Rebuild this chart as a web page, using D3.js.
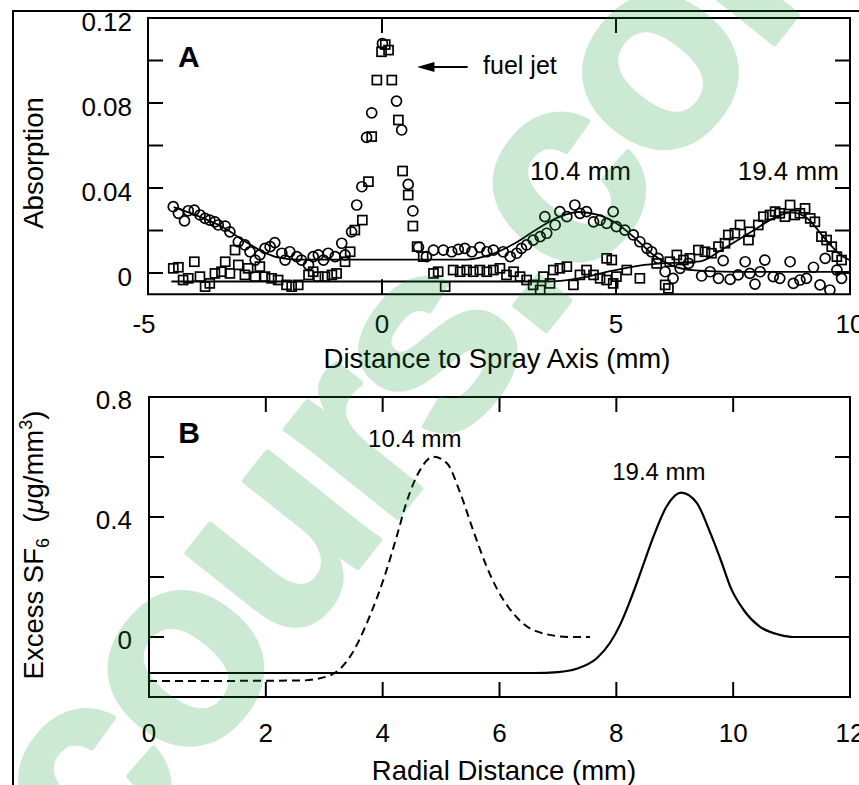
<!DOCTYPE html>
<html>
<head>
<meta charset="utf-8">
<script src="https://cdn.jsdelivr.net/npm/d3@7"></script>
<style>
  html, body { margin: 0; padding: 0; background: #fff; }
  svg { display: block; }
  text { font-family: "Liberation Sans", Arial, Helvetica, sans-serif; fill: #000; }
</style>
</head>
<body>
<svg id="chart" width="859" height="785"></svg>
<script>
// ---------- Panel A: absorption profiles across the spray ----------
// 10.4 mm downstream (circles): [distance mm, absorption]
const absorption104 = [
  [-4.46,0.0312],[-4.35,0.0281],[-4.22,0.0245],[-4.14,0.0293],[-4.01,0.0296],[-3.89,0.0273],
  [-3.78,0.0257],[-3.68,0.0249],[-3.57,0.0241],[-3.50,0.0226],[-3.35,0.0221],[-3.25,0.0194],
  [-3.07,0.0147],[-2.93,0.0132],[-2.82,0.0100],[-2.71,0.0061],[-2.61,0.0085],[-2.50,0.0116],
  [-2.39,0.0124],[-2.29,0.0143],[-2.14,0.0093],[-2.07,0.0061],[-1.97,0.0100],[-1.82,0.0077],
  [-1.72,0.0061],[-1.57,0.0038],[-1.47,0.0077],[-1.36,0.0085],[-1.25,0.0061],[-1.15,0.0093],
  [-1.00,0.0077],[-0.86,0.0140],[-0.79,0.0085],[-0.65,0.0194],[-0.54,0.0320],[-0.43,0.0406],
  [-0.33,0.0638],[-0.22,0.0754],[0.01,0.1080],[0.31,0.0809],[0.42,0.0673],[0.56,0.0417],
  [0.66,0.0292],[0.78,0.0121],[0.95,0.0077],[1.10,0.0108],[1.31,0.0108],[1.49,0.0100],
  [1.63,0.0111],[1.77,0.0116],[1.92,0.0100],[2.09,0.0121],[2.24,0.0100],[2.38,0.0108],
  [2.59,0.0100],[2.74,0.0077],[2.88,0.0093],[2.98,0.0116],[3.09,0.0132],[3.23,0.0155],
  [3.38,0.0171],[3.48,0.0265],[3.52,0.0187],[3.70,0.0226],[3.80,0.0289],[3.95,0.0265],
  [4.12,0.0320],[4.23,0.0281],[4.37,0.0289],[4.52,0.0241],[4.66,0.0249],[4.80,0.0234],
  [4.94,0.0289],[5.01,0.0218],[5.19,0.0202],[5.37,0.0179],[5.51,0.0147],[5.66,0.0116],
  [5.76,0.0100],[5.90,0.0069],[6.05,0.0006],[6.22,-0.0025],[6.37,0.0022],[6.55,0.0045],
  [6.83,-0.0014],[7.01,0.0006],[7.19,-0.0025],[7.29,0.0058],[7.44,-0.0030],[7.61,-0.0009],
  [7.76,0.0053],[7.86,-0.0002],[7.97,-0.0052],[8.08,0.0006],[8.18,0.0061],[8.36,-0.0017],
  [8.50,-0.0025],[8.72,0.0053],[8.79,-0.0049],[8.93,-0.0033],[9.07,-0.0025],[9.22,0.0027],
  [9.36,-0.0056],[9.47,0.0069],[9.57,-0.0080],[9.72,0.0014],[9.82,-0.0025]
];
// 19.4 mm downstream (squares)
const absorption194 = [
  [-4.46,0.0022],[-4.35,0.0027],[-4.25,-0.0033],[-4.14,-0.0025],[-4.01,0.0053],[-3.89,-0.0017],
  [-3.78,-0.0064],[-3.68,-0.0049],[-3.57,-0.0002],[-3.43,0.0006],[-3.35,0.0053],[-3.25,-0.0002],
  [-3.14,0.0108],[-3.07,0.0038],[-2.93,-0.0009],[-2.86,0.0022],[-2.71,-0.0017],[-2.61,0.0030],
  [-2.50,-0.0017],[-2.36,-0.0025],[-2.22,-0.0033],[-2.04,-0.0056],[-1.93,-0.0064],[-1.79,-0.0056],
  [-1.57,-0.0009],[-1.47,0.0006],[-1.36,-0.0017],[-1.22,-0.0017],[-1.07,-0.0009],[-0.97,-0.0002],
  [-0.79,0.0053],[-0.68,0.0100],[-0.58,0.0202],[-0.42,0.0249],[-0.29,0.0430],[-0.22,0.0642],
  [-0.11,0.0908],[-0.01,0.1041],[0.14,0.1049],[0.07,0.1075],[0.21,0.0908],[0.35,0.0720],
  [0.44,0.0480],[0.56,0.0367],[0.66,0.0221],[0.75,0.0124],[0.88,0.0077],[1.10,-0.0002],
  [1.20,0.0006],[1.35,-0.0064],[1.52,0.0014],[1.67,0.0006],[1.81,0.0014],[1.95,0.0006],
  [2.09,0.0014],[2.24,0.0006],[2.38,0.0014],[2.52,0.0022],[2.66,-0.0009],[2.81,0.0006],
  [2.95,-0.0017],[3.09,-0.0033],[3.23,-0.0056],[3.38,-0.0080],[3.45,-0.0017],[3.59,-0.0049],
  [3.66,0.0014],[3.80,0.0022],[3.95,0.0030],[4.09,-0.0056],[4.23,-0.0009],[4.37,0.0014],
  [4.52,-0.0009],[4.66,-0.0025],[4.80,-0.0033],[4.94,-0.0049],[4.80,0.0069],[4.91,0.0061],
  [5.01,-0.0017],[5.23,0.0014],[5.51,-0.0025],[5.87,0.0045],[6.05,-0.0056],[6.12,-0.0072],
  [6.15,0.0053],[6.30,0.0085],[6.44,0.0061],[6.58,0.0069],[6.76,0.0108],[6.90,0.0100],
  [7.04,0.0093],[7.19,0.0124],[7.33,0.0140],[7.40,0.0179],[7.54,0.0187],[7.65,0.0226],
  [7.83,0.0155],[7.86,0.0194],[8.04,0.0226],[8.15,0.0265],[8.29,0.0273],[8.40,0.0289],
  [8.50,0.0281],[8.61,0.0265],[8.72,0.0320],[8.82,0.0273],[8.93,0.0281],[9.04,0.0304],
  [9.15,0.0257],[9.25,0.0241],[9.39,0.0171],[9.50,0.0155],[9.61,0.0124],[9.72,0.0077],
  [9.82,0.0061]
];
// fitted profiles
const fit104 = [
  [-4.45,0.0310],[-3.9,0.0265],[-3.4,0.0215],[-2.9,0.0145],[-2.5,0.0095],[-2.2,0.0072],
  [-1.8,0.0063],[1.8,0.0063],[2.3,0.0085],[2.8,0.0135],[3.3,0.0205],[3.8,0.0265],
  [4.2,0.0287],[4.6,0.0275],[5.0,0.0235],[5.4,0.0165],[5.8,0.0085],[6.2,0.0035],
  [6.7,0.0012],[7.5,0.0005],[10,0.0005]
];
const fit194 = [
  [-4.5,-0.0040],[3.5,-0.0040],[4.2,-0.0025],[4.9,0.0010],[5.5,0.0035],[6.2,0.0048],
  [6.8,0.0055],[7.3,0.0115],[7.9,0.0195],[8.4,0.0262],[8.75,0.0285],[9.1,0.0255],
  [9.45,0.0165],[9.8,0.0085],[10.0,0.0060]
];
const xTicksA = [-5, 0, 5, 10];
const xTickMarksA = [0, 5];
const yTicksA = [0, 0.02, 0.04, 0.06, 0.08, 0.10];
const yLabelsA = [[0, "0"], [0.04, "0.04"], [0.08, "0.08"], [0.12, "0.12"]];

// ---------- Panel B: radial SF6 profiles ----------
const sf6_104 = [
  [0,-0.147],[2.6,-0.145],[3.1,-0.128],[3.44,-0.066],[3.78,0.070],[4.04,0.207],[4.24,0.335],
  [4.41,0.450],[4.64,0.557],[4.87,0.601],[5.10,0.579],[5.33,0.479],[5.55,0.355],[5.78,0.235],
  [5.95,0.163],[6.18,0.092],[6.41,0.044],[6.81,0.009],[7.21,0],[7.55,0]
];
const sf6_194 = [
  [0,-0.12],[6.6,-0.12],[7.0,-0.117],[7.32,-0.106],[7.67,-0.070],[7.89,-0.020],[8.07,0.043],
  [8.21,0.108],[8.35,0.180],[8.46,0.240],[8.64,0.337],[8.86,0.435],[9.11,0.481],[9.38,0.446],
  [9.61,0.346],[9.80,0.250],[9.95,0.168],[10.18,0.090],[10.46,0.034],[10.80,0.007],[11.03,0],[12,0]
];
const xTicksB = [0, 2, 4, 6, 8, 10, 12];
const yTicksB = [0, 0.2, 0.4, 0.6];
const yLabelsB = [[0, "0"], [0.4, "0.4"], [0.8, "0.8"]];

// ---------- setup ----------
const svg = d3.select("#chart");
svg.append("rect").attr("width", 859).attr("height", 785).attr("fill", "#fff");

// outer figure border
svg.append("path").attr("d", "M13,800 L13,11 L870,11")
  .attr("fill", "none").attr("stroke", "#000").attr("stroke-width", 2);

const xA = d3.scaleLinear().domain([-5, 10]).range([148, 850]);
const yA = d3.scaleLinear().domain([-0.01, 0.12]).range([294.25, 18]);
const xB = d3.scaleLinear().domain([0, 12]).range([149, 850]);
const yB = d3.scaleLinear().domain([-0.2, 0.8]).range([697, 397]);

const TICK = 15;
const tickFont = 26;
const titleFont = 27.5;

function frame(g, x, y) {
  const [x0, x1] = x.range(), [y0, y1] = y.range();
  g.append("rect").attr("x", x0).attr("y", y1).attr("width", x1 - x0).attr("height", y0 - y1)
    .attr("fill", "none").attr("stroke", "#000").attr("stroke-width", 2);
}
function ticks(g, x, y, xt, yt) {
  const [x0, x1] = x.range(), [y0, y1] = y.range();
  const t = g.append("g").attr("stroke", "#000").attr("stroke-width", 2);
  t.selectAll(".xb").data(xt).join("line").attr("x1", d => x(d)).attr("x2", d => x(d)).attr("y1", y0).attr("y2", y0 - TICK);
  t.selectAll(".xt").data(xt).join("line").attr("x1", d => x(d)).attr("x2", d => x(d)).attr("y1", y1).attr("y2", y1 + TICK);
  t.selectAll(".yl").data(yt).join("line").attr("y1", d => y(d)).attr("y2", d => y(d)).attr("x1", x0).attr("x2", x0 + TICK);
  t.selectAll(".yr").data(yt).join("line").attr("y1", d => y(d)).attr("y2", d => y(d)).attr("x1", x1).attr("x2", x1 - TICK);
}

// ---------- Panel A ----------
const gA = svg.append("g");
svg.append("clipPath").attr("id", "clipA").append("rect")
  .attr("x", 148).attr("y", 18).attr("width", 702).attr("height", 276);
ticks(gA, xA, yA, xTickMarksA, yTicksA);

const lineA = d3.line().x(d => xA(d[0])).y(d => yA(d[1])).curve(d3.curveMonotoneX);
const dataA = gA.append("g").attr("clip-path", "url(#clipA)");
dataA.append("path").datum(fit104).attr("d", lineA).attr("fill", "none").attr("stroke", "#000").attr("stroke-width", 1.8);
dataA.append("path").datum(fit194).attr("d", lineA).attr("fill", "none").attr("stroke", "#000").attr("stroke-width", 1.8);

dataA.selectAll(".sq").data(absorption194).join("rect")
  .attr("x", d => xA(d[0]) - 4.5).attr("y", d => yA(d[1]) - 4.5)
  .attr("width", 9).attr("height", 9)
  .attr("fill", "none").attr("stroke", "#000").attr("stroke-width", 1.7);
dataA.selectAll(".ci").data(absorption104).join("circle")
  .attr("cx", d => xA(d[0])).attr("cy", d => yA(d[1])).attr("r", 5)
  .attr("fill", "none").attr("stroke", "#000").attr("stroke-width", 1.7);

frame(gA, xA, yA);

gA.selectAll(".yla").data(yLabelsA).join("text")
  .attr("x", 132).attr("y", d => yA(d[0]) + 12.5)
  .attr("text-anchor", "end").attr("font-size", tickFont).text(d => d[1]);
gA.selectAll(".xla").data(xTicksA).join("text")
  .attr("x", d => xA(d) - (d < 0 ? 4 : 0)).attr("y", 333)
  .attr("text-anchor", "middle").attr("font-size", tickFont).text(d => d);
gA.append("text").attr("x", 497).attr("y", 368).attr("text-anchor", "middle")
  .attr("font-size", titleFont).text("Distance to Spray Axis (mm)");
gA.append("text").attr("transform", "translate(43,163) rotate(-90)").attr("text-anchor", "middle")
  .attr("font-size", titleFont).text("Absorption");

// panel letter and annotations
gA.append("text").attr("x", xA(-4.36)).attr("y", yA(0.097)).attr("font-size", 30).attr("font-weight", "bold").text("A");
gA.append("text").attr("x", xA(2.16)).attr("y", yA(0.0935)).attr("font-size", 25).text("fuel jet");
gA.append("line").attr("x1", xA(1.05)).attr("x2", xA(1.83)).attr("y1", yA(0.097)).attr("y2", yA(0.097))
  .attr("stroke", "#000").attr("stroke-width", 2);
gA.append("path")
  .attr("d", `M${xA(0.75)},${yA(0.097)} L${xA(1.12)},${yA(0.097) - 5} L${xA(1.12)},${yA(0.097) + 5} Z`)
  .attr("fill", "#000");
gA.append("text").attr("x", xA(3.16)).attr("y", yA(0.0438)).attr("font-size", 26).text("10.4 mm");
gA.append("text").attr("x", xA(7.6)).attr("y", yA(0.0438)).attr("font-size", 26).text("19.4 mm");

// ---------- Panel B ----------
const gB = svg.append("g");
svg.append("clipPath").attr("id", "clipB").append("rect")
  .attr("x", 149).attr("y", 397).attr("width", 701).attr("height", 300);
ticks(gB, xB, yB, xTicksB.slice(1, -1), yTicksB);

const lineB = d3.line().x(d => xB(d[0])).y(d => yB(d[1])).curve(d3.curveMonotoneX);
const dataB = gB.append("g").attr("clip-path", "url(#clipB)");
dataB.append("path").datum(sf6_104).attr("d", lineB).attr("fill", "none")
  .attr("stroke", "#000").attr("stroke-width", 2).attr("stroke-dasharray", "8,5");
dataB.append("path").datum(sf6_194).attr("d", lineB).attr("fill", "none")
  .attr("stroke", "#000").attr("stroke-width", 2.2);

frame(gB, xB, yB);

gB.selectAll(".ylb").data(yLabelsB).join("text")
  .attr("x", 132).attr("y", d => yB(d[0]) + 12)
  .attr("text-anchor", "end").attr("font-size", tickFont).text(d => d[1]);
gB.selectAll(".xlb").data(xTicksB).join("text")
  .attr("x", d => xB(d)).attr("y", 742)
  .attr("text-anchor", "middle").attr("font-size", tickFont).text(d => d);
gB.append("text").attr("x", 504).attr("y", 780).attr("text-anchor", "middle")
  .attr("font-size", titleFont).text("Radial Distance (mm)");

const yTitleB = gB.append("text").attr("transform", "translate(43,545) rotate(-90)")
  .attr("text-anchor", "middle").attr("font-size", titleFont);
yTitleB.append("tspan").text("Excess SF");
yTitleB.append("tspan").attr("font-size", 18).attr("dy", 6).text("6");
yTitleB.append("tspan").attr("dy", -6).text("\u00a0\u00a0(");
yTitleB.append("tspan").attr("font-style", "italic").text("\u03bc");
yTitleB.append("tspan").text("g/mm");
yTitleB.append("tspan").attr("font-size", 18).attr("dy", -11).text("3");
yTitleB.append("tspan").attr("dy", 11).text(")");

gB.append("text").attr("x", xB(0.5)).attr("y", yB(0.647)).attr("font-size", 30).attr("font-weight", "bold").text("B");
gB.append("text").attr("x", xB(3.75)).attr("y", yB(0.633)).attr("font-size", 24).text("10.4 mm");
gB.append("text").attr("x", xB(7.93)).attr("y", yB(0.523)).attr("font-size", 24).text("19.4 mm");

// ---------- site watermark ----------
svg.append("text")
  .attr("transform", "translate(102,889) rotate(-51.5)")
  .attr("font-size", 270).attr("font-weight", "bold").attr("letter-spacing", -8)
  .style("fill", "rgb(20,155,55)").style("stroke", "rgb(20,155,55)").style("stroke-width", 5)
  .style("stroke-linejoin", "round")
  .attr("opacity", 0.21)
  .text("cours.com");
</script>
</body>
</html>
